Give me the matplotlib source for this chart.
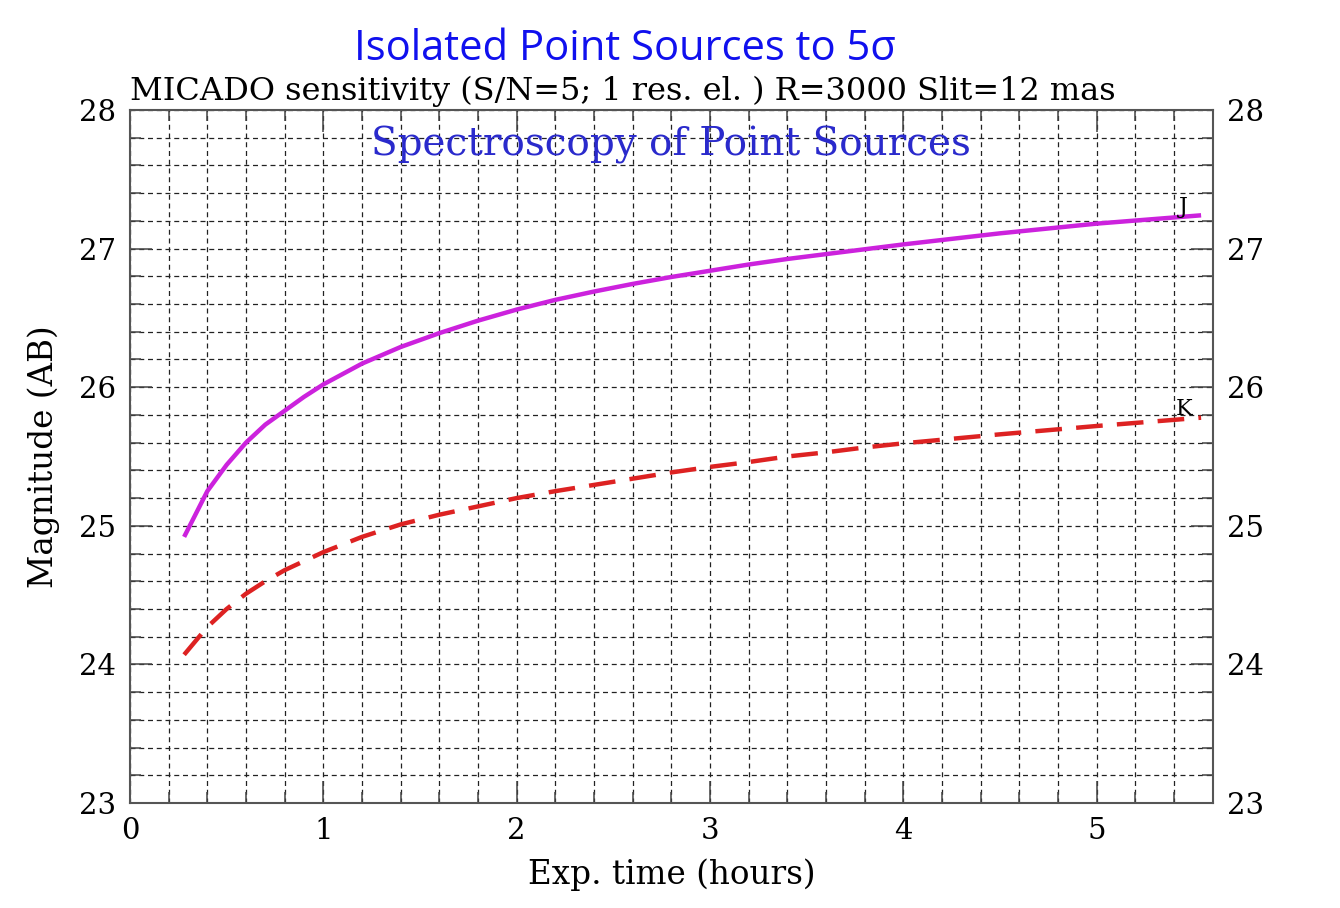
import matplotlib
matplotlib.use("Agg")
import matplotlib.pyplot as plt
from matplotlib.ticker import MultipleLocator

# exposure time (hours) and 5-sigma limiting magnitude
j_time = [0.28, 0.40, 0.50, 0.60, 0.70, 0.80, 0.90, 1.0, 1.2, 1.4, 1.6, 1.8,
          2.0, 2.2, 2.4, 2.6, 2.8, 3.0, 3.2, 3.4, 3.6, 3.8, 4.0, 4.5, 5.0, 5.54]
j_mag = [24.92, 25.25, 25.44, 25.60, 25.73, 25.83, 25.93, 26.02, 26.17, 26.29,
         26.39, 26.48, 26.56, 26.63, 26.69, 26.745, 26.795, 26.84, 26.885,
         26.925, 26.96, 26.995, 27.03, 27.11, 27.18, 27.24]

k_time = [0.28, 0.40, 0.50, 0.60, 0.70, 0.80, 1.0, 1.2, 1.4, 1.6, 1.8, 2.0,
          2.2, 2.4, 2.6, 2.8, 3.0, 3.2, 3.4, 3.6, 3.8, 4.0, 4.5, 5.0, 5.54]
k_mag = [24.07, 24.27, 24.40, 24.51, 24.60, 24.68, 24.81, 24.92, 25.01, 25.08,
         25.14, 25.20, 25.25, 25.295, 25.34, 25.385, 25.425, 25.46, 25.50,
         25.53, 25.565, 25.595, 25.66, 25.72, 25.78]

serif = "DejaVu Serif"

fig = plt.figure(figsize=(13.4, 9.08), dpi=100)
ax = fig.add_axes([0.097, 0.1156, 0.808, 0.7633])

ax.plot(j_time, j_mag, color="#cc22dd", lw=3.2, solid_capstyle="butt")
ax.plot(k_time, k_mag, color="#dd2222", lw=3.2, dashes=(6, 3.2))

ax.set_xlim(0, 5.6)
ax.set_ylim(23, 28)

ax.xaxis.set_major_locator(MultipleLocator(1))
ax.xaxis.set_minor_locator(MultipleLocator(0.2))
ax.yaxis.set_major_locator(MultipleLocator(1))
ax.yaxis.set_minor_locator(MultipleLocator(0.2))
ax.grid(True, which="both", color="#222222", lw=0.9, linestyle=(0, (4, 3)))

ax.tick_params(which="both", direction="in", top=True, right=True,
               labelright=True, color="#444444", width=1.1,
               labelsize=21, pad=10)
ax.tick_params(which="major", length=16)
ax.tick_params(which="minor", length=8)
for lab in ax.get_xticklabels() + ax.get_yticklabels():
    lab.set_fontfamily(serif)
for s in ax.spines.values():
    s.set_color("#555555")
    s.set_linewidth(1.5)

ax.set_xlabel("Exp. time (hours)", fontsize=23.5, family=serif, labelpad=10)
ax.set_ylabel("Magnitude (AB)", fontsize=23.5, family=serif, labelpad=14)

ax.text(5.45, 27.30, "J", fontsize=16, family=serif, ha="center", va="center")
ax.text(5.45, 25.84, "K", fontsize=16, family=serif, ha="center", va="center")
ax.text(0.0, 28.02, "MICADO sensitivity (S/N=5; 1 res. el. ) R=3000 Slit=12 mas",
        fontsize=23, family=serif, ha="left", va="bottom")
ax.text(2.80, 27.75, "Spectroscopy of Point Sources", fontsize=28,
        family=serif, color="#2a2acc", ha="center", va="center")

fig.text(0.466, 0.946, "Isolated Point Sources to 5\u03c3", fontsize=30,
         family=["Open Sans", "DejaVu Sans"], color="#1010ee",
         ha="center", va="center")

fig.savefig("out.png", dpi=100)
